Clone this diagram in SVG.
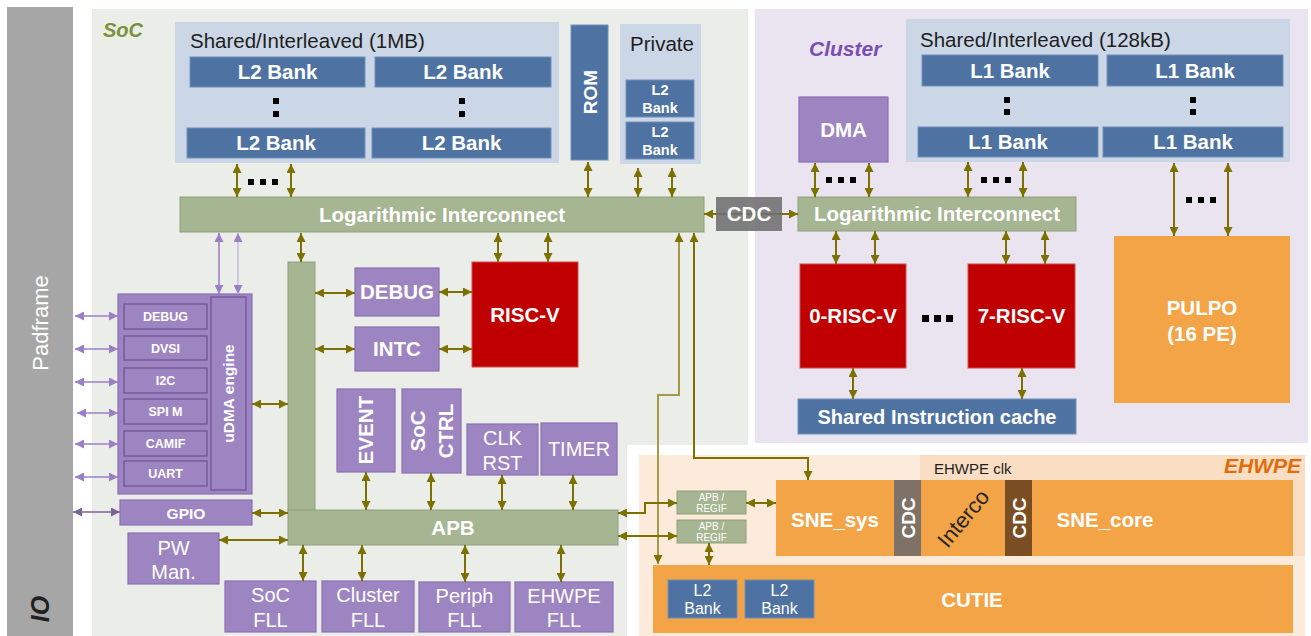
<svg xmlns="http://www.w3.org/2000/svg" width="1311" height="636" viewBox="0 0 1311 636">
<defs>
<style>
text{font-family:"Liberation Sans",Arial,sans-serif}
.t{fill:#fff;font-weight:bold;font-size:20.5px;text-anchor:middle}
.tr{fill:#fff;font-size:20px;text-anchor:middle}
.dk{fill:#1e1e1e;font-size:20.5px}
.bank{fill:#4E72A1;stroke:#7090B8;stroke-width:1}
.panel{fill:#CBD7E6}
.grn{fill:#A6B592;stroke:#90A07B;stroke-width:1}
.pur{fill:#9D85C2;stroke:#8A70B4;stroke-width:1.2}
.pin{fill:#9D85C2;stroke:#6F5596;stroke-width:1.3}
.red{fill:#C00000;stroke:#D44A4A;stroke-width:1}
.org{fill:#F2A447}
.ol{stroke:#7C7000;stroke-width:2;fill:none;marker-start:url(#ah);marker-end:url(#ah)}
.oll{stroke:#A39A45;stroke-width:2;fill:none;marker-start:url(#ah);marker-end:url(#ah)}
.pl{stroke:#9B7FC6;stroke-width:1.6;fill:none;marker-start:url(#ap);marker-end:url(#ap)}
.plx{stroke:#CBBCE2;stroke-width:1.6;fill:none;marker-start:url(#ap);marker-end:url(#ap)}
.pd{stroke:#7C6399;stroke-width:1.6;fill:none;marker-start:url(#apd);marker-end:url(#apd)}
.dot{fill:#000}
.s10{font-size:10px}
.s12{font-size:12.5px}
.s14{font-size:14.5px}
.s15{font-size:15.5px}
.s16{font-size:16px}
.s19{font-size:19px}
.s20{font-size:20px}
</style>
<marker id="ah" viewBox="0 0 10 10" refX="10" refY="5" markerWidth="9" markerHeight="9" markerUnits="userSpaceOnUse" orient="auto-start-reverse"><path d="M0,0 L10,5 L0,10 z" fill="#7C7000"/></marker>
<marker id="ap" viewBox="0 0 10 10" refX="10" refY="5" markerWidth="9" markerHeight="9" markerUnits="userSpaceOnUse" orient="auto-start-reverse"><path d="M0,0 L10,5 L0,10 z" fill="#9B7FC6"/></marker>
<marker id="apd" viewBox="0 0 10 10" refX="10" refY="5" markerWidth="9" markerHeight="9" markerUnits="userSpaceOnUse" orient="auto-start-reverse"><path d="M0,0 L10,5 L0,10 z" fill="#7C6399"/></marker>
</defs>
<rect width="1311" height="636" fill="#fff"/>

<!-- regions -->
<g id="padframe">
<rect x="7" y="7" width="66" height="629" fill="#A6A6A6"/>
<text transform="rotate(-90 40 323)" x="40" y="331" fill="#fff" font-size="22" text-anchor="middle">Padframe</text>
<text transform="rotate(-90 40 609)" x="40" y="618" fill="#222" font-size="25" font-weight="bold" font-style="italic" text-anchor="middle">IO</text>
</g>
<g id="soc">
<rect x="92" y="9" width="656" height="627" fill="#EBEEE8"/>
<text x="103" y="37" fill="#77933C" font-size="20" font-weight="bold" font-style="italic">SoC</text>
</g>
<g id="cluster">
<rect x="755" y="9" width="553" height="434" fill="#EAE4F1"/>
<text x="809" y="56" fill="#7A4FB0" font-size="21" font-weight="bold" font-style="italic">Cluster</text>
</g>
<g id="ehwpe">
<rect x="627" y="445" width="684" height="191" fill="#fff"/>
<rect x="639" y="455" width="666" height="181" fill="#FCEBDA"/>
<rect x="920" y="455" width="385" height="101" fill="#F9DEC3"/>
<text x="934" y="474" fill="#1e1e1e" font-size="15">EHWPE clk</text>
<text x="1301" y="473" fill="#E36C09" font-size="21" font-weight="bold" font-style="italic" text-anchor="end">EHWPE</text>
</g>

<!-- SoC memory -->
<g id="l2-shared">
<rect class="panel" x="175" y="22" width="384" height="141"/>
<text class="dk" x="190" y="48">Shared/Interleaved (1MB)</text>
<rect class="bank" x="190" y="57" width="175" height="30"/>
<text class="t" x="277.5" y="79">L2 Bank</text>
<rect class="bank" x="375" y="57" width="176" height="30"/>
<text class="t" x="463" y="79">L2 Bank</text>
<rect class="bank" x="187" y="128" width="178" height="30"/>
<text class="t" x="276" y="150">L2 Bank</text>
<rect class="bank" x="372" y="128" width="179" height="30"/>
<text class="t" x="461.5" y="150">L2 Bank</text>
<rect class="dot" x="273" y="98" width="6" height="6"/><rect class="dot" x="273" y="111" width="6" height="6"/>
<rect class="dot" x="459" y="98" width="6" height="6"/><rect class="dot" x="459" y="111" width="6" height="6"/>
</g>
<g id="rom">
<rect class="bank" x="571" y="25" width="37" height="135"/>
<text class="t s19" transform="rotate(-90 589.5 92)" x="589.5" y="99">ROM</text>
</g>
<g id="l2-private">
<rect class="panel" x="620" y="24" width="81" height="140"/>
<text class="dk" x="662" y="51" text-anchor="middle">Private</text>
<rect class="bank" x="626" y="80" width="68" height="37"/>
<text class="t s14" x="660" y="95">L2</text>
<text class="t s14" x="660" y="113">Bank</text>
<rect class="bank" x="626" y="122" width="68" height="37"/>
<text class="t s14" x="660" y="137">L2</text>
<text class="t s14" x="660" y="155">Bank</text>
</g>
<g id="soc-interconnect">
<rect class="grn" x="180" y="197" width="524" height="35"/>
<text class="t" x="442" y="222">Logarithmic Interconnect</text>
</g>

<!-- SoC peripherals -->
<g id="apb">
<rect class="grn" x="288" y="262" width="27" height="250"/>
<rect class="grn" x="288" y="510" width="330" height="35"/>
<text class="t" x="453" y="535">APB</text>
</g>
<g id="debug"><rect class="pur" x="355" y="268" width="84" height="48"/><text class="t" x="397" y="299">DEBUG</text></g>
<g id="intc"><rect class="pur" x="355" y="327" width="84" height="44"/><text class="t" x="397" y="356">INTC</text></g>
<g id="soc-riscv"><rect class="red" x="472" y="262" width="106" height="105"/><text class="t" x="525" y="322">RISC-V</text></g>
<g id="event"><rect class="pur" x="337" y="389" width="58" height="83"/><text class="t" transform="rotate(-90 366 430)" x="366" y="437">EVENT</text></g>
<g id="socctrl"><rect class="pur" x="402" y="389" width="59" height="84"/>
<text class="t" transform="rotate(-90 418 431)" x="418" y="438">SoC</text>
<text class="t" transform="rotate(-90 446 431)" x="446" y="438">CTRL</text></g>
<g id="clkrst"><rect class="pur" x="467" y="424" width="71" height="51"/><text class="tr" x="502.5" y="445">CLK</text><text class="tr" x="502.5" y="470">RST</text></g>
<g id="timer"><rect class="pur" x="541" y="423" width="76" height="52"/><text class="tr" x="579" y="456">TIMER</text></g>

<g id="udma">
<rect class="pur" x="118" y="294" width="134" height="200"/>
<rect class="pin" x="124" y="304" width="83" height="25"/><text class="t s12" x="165.5" y="321">DEBUG</text>
<rect class="pin" x="124" y="336" width="83" height="24"/><text class="t s12" x="165.5" y="352.5">DVSI</text>
<rect class="pin" x="124" y="368" width="83" height="25"/><text class="t s12" x="165.5" y="385">I2C</text>
<rect class="pin" x="124" y="399" width="83" height="25"/><text class="t s12" x="165.5" y="416">SPI M</text>
<rect class="pin" x="124" y="431" width="83" height="25"/><text class="t s12" x="165.5" y="448">CAMIF</text>
<rect class="pin" x="124" y="461" width="83" height="25"/><text class="t s12" x="165.5" y="478">UART</text>
<rect class="pin" x="211" y="297" width="35" height="193"/>
<text class="t s15" transform="rotate(-90 228.5 393.5)" x="228.5" y="399">uDMA engine</text>
</g>
<g id="gpio"><rect class="pur" x="120" y="500" width="132" height="25"/><text class="t s15" x="186" y="518.5">GPIO</text></g>
<g id="pwman"><rect class="pur" x="128" y="533" width="91" height="51"/><text class="tr" x="173.5" y="555">PW</text><text class="tr" x="173.5" y="579">Man.</text></g>
<g id="soc-fll"><rect class="pur" x="225" y="581" width="91" height="51"/><text class="tr" x="270.5" y="602">SoC</text><text class="tr" x="270.5" y="627">FLL</text></g>
<g id="cluster-fll"><rect class="pur" x="322" y="581" width="92" height="51"/><text class="tr" x="368" y="602">Cluster</text><text class="tr" x="368" y="627">FLL</text></g>
<g id="periph-fll"><rect class="pur" x="419" y="582" width="91" height="50"/><text class="tr" x="464.5" y="603">Periph</text><text class="tr" x="464.5" y="627">FLL</text></g>
<g id="ehwpe-fll"><rect class="pur" x="515" y="582" width="98" height="50"/><text class="tr" x="564" y="603">EHWPE</text><text class="tr" x="564" y="627">FLL</text></g>

<!-- Cluster -->
<g id="l1-shared">
<rect class="panel" x="906" y="19" width="384" height="143"/>
<text class="dk" x="920" y="47">Shared/Interleaved (128kB)</text>
<rect class="bank" x="922" y="55" width="176" height="31"/><text class="t" x="1010" y="78">L1 Bank</text>
<rect class="bank" x="1107" y="55" width="176" height="31"/><text class="t" x="1195" y="78">L1 Bank</text>
<rect class="bank" x="918" y="127" width="180" height="30"/><text class="t" x="1008" y="149">L1 Bank</text>
<rect class="bank" x="1103" y="127" width="180" height="30"/><text class="t" x="1193" y="149">L1 Bank</text>
<rect class="dot" x="1004" y="97" width="6" height="6"/><rect class="dot" x="1004" y="109" width="6" height="6"/>
<rect class="dot" x="1190" y="97" width="6" height="6"/><rect class="dot" x="1190" y="109" width="6" height="6"/>
</g>
<g id="dma"><rect class="pur" x="799" y="97" width="89" height="65"/><text class="t" x="843.5" y="137">DMA</text></g>
<g id="cluster-interconnect"><rect class="grn" x="798" y="197" width="278" height="34"/><text class="t" x="937" y="221">Logarithmic Interconnect</text></g>
<g id="riscv0"><rect class="red" x="800" y="264" width="106" height="104"/><text class="t" x="853" y="323">0-RISC-V</text></g>
<g id="riscv7"><rect class="red" x="968" y="264" width="107" height="104"/><text class="t" x="1021.5" y="323">7-RISC-V</text></g>
<g id="icache"><rect class="bank" x="798" y="399" width="278" height="35"/><text class="t s20" x="937" y="424">Shared Instruction cache</text></g>
<g id="pulpo"><rect class="org" x="1114" y="236" width="176" height="167"/><text class="t" x="1202" y="315">PULPO</text><text class="t" x="1202" y="341">(16 PE)</text></g>
<g id="cluster-dots">
<rect class="dot" x="922" y="315" width="7" height="7"/><rect class="dot" x="934" y="315" width="7" height="7"/><rect class="dot" x="946" y="315" width="7" height="7"/>
</g>

<!-- EHWPE -->
<g id="regif1"><rect class="grn" x="677" y="491" width="69" height="23"/><text class="tr s10" x="711.5" y="501">APB /</text><text class="tr s10" x="711.5" y="512">REGIF</text></g>
<g id="regif2"><rect class="grn" x="677" y="520" width="69" height="23"/><text class="tr s10" x="711.5" y="530">APB /</text><text class="tr s10" x="711.5" y="541">REGIF</text></g>
<g id="sne">
<rect class="org" x="776" y="480" width="517" height="76"/>
<text class="t" x="835" y="527">SNE_sys</text>
<rect x="894" y="480" width="27" height="76" fill="#7D7265"/>
<text class="t s19" transform="rotate(-90 907.5 518)" x="907.5" y="525">CDC</text>
<text transform="rotate(-50 963 518)" x="963" y="526" fill="#262626" font-size="22" text-anchor="middle">Interco</text>
<rect x="1005" y="480" width="27" height="76" fill="#7A4E22"/>
<text class="t s19" transform="rotate(-90 1018.5 518)" x="1018.5" y="525">CDC</text>
<text class="t" x="1105" y="527">SNE_core</text>
</g>
<g id="cutie">
<rect class="org" x="653" y="565" width="640" height="68"/>
<rect class="bank" x="668" y="580" width="69" height="38"/><text class="tr s16" x="702.5" y="596">L2</text><text class="tr s16" x="702.5" y="614">Bank</text>
<rect class="bank" x="745" y="580" width="69" height="38"/><text class="tr s16" x="779.5" y="596">L2</text><text class="tr s16" x="779.5" y="614">Bank</text>
<text class="t" x="972" y="607">CUTIE</text>
</g>

<!-- connectors -->
<g id="connectors">
<line class="ol" x1="237" y1="164" x2="237" y2="197"/>
<line class="ol" x1="291" y1="164" x2="291" y2="197"/>
<rect class="dot" x="248" y="179" width="6" height="6"/><rect class="dot" x="260" y="179" width="6" height="6"/><rect class="dot" x="272" y="179" width="6" height="6"/>
<line class="ol" x1="588" y1="162" x2="588" y2="197"/>
<line class="ol" x1="638" y1="168" x2="638" y2="197"/>
<line class="ol" x1="672" y1="168" x2="672" y2="197"/>
<line class="pl" x1="219" y1="233" x2="219" y2="294"/>
<line class="plx" x1="238" y1="233" x2="238" y2="294"/>
<line class="ol" x1="301" y1="233" x2="301" y2="262"/>
<line class="ol" x1="498" y1="233" x2="498" y2="262"/>
<line class="ol" x1="548" y1="233" x2="548" y2="262"/>
<polyline class="oll" points="679,233 679,395 658,395 658,564"/>
<polyline class="ol" points="694,233 694,458 808,458 808,480"/>
<line class="ol" x1="315" y1="293" x2="355" y2="293"/>
<line class="ol" x1="315" y1="349" x2="355" y2="349"/>
<line class="ol" x1="439" y1="292" x2="472" y2="292"/>
<line class="ol" x1="439" y1="349" x2="472" y2="349"/>
<line class="ol" x1="252" y1="404" x2="288" y2="404"/>
<line class="ol" x1="366" y1="472" x2="366" y2="510"/>
<line class="ol" x1="431" y1="473" x2="431" y2="510"/>
<line class="ol" x1="502" y1="475" x2="502" y2="510"/>
<line class="ol" x1="573" y1="475" x2="573" y2="510"/>
<line class="ol" x1="252" y1="513" x2="288" y2="513"/>
<line class="ol" x1="219" y1="540" x2="288" y2="540"/>
<line class="ol" x1="303" y1="545" x2="303" y2="581"/>
<line class="ol" x1="362" y1="545" x2="362" y2="581"/>
<line class="ol" x1="465" y1="545" x2="465" y2="582"/>
<line class="ol" x1="561" y1="545" x2="561" y2="582"/>
<polyline class="ol" points="618,513 645,513 645,503 677,503"/>
<line class="ol" x1="618" y1="536" x2="677" y2="536"/>
<line class="ol" x1="746" y1="503" x2="776" y2="503"/>
<line class="ol" x1="709" y1="543" x2="709" y2="565"/>
<line class="pl" x1="75" y1="316" x2="118" y2="316"/>
<line class="pl" x1="75" y1="349" x2="118" y2="349"/>
<line class="pl" x1="75" y1="382" x2="118" y2="382"/>
<line class="pl" x1="77" y1="413" x2="118" y2="413"/>
<line class="pl" x1="75" y1="444" x2="118" y2="444"/>
<line class="pl" x1="75" y1="477" x2="118" y2="477"/>
<line class="pd" x1="73" y1="512" x2="120" y2="512"/>
<line class="ol" x1="815" y1="163" x2="815" y2="197"/>
<line class="ol" x1="869" y1="163" x2="869" y2="197"/>
<rect class="dot" x="826" y="177" width="6" height="6"/><rect class="dot" x="838" y="177" width="6" height="6"/><rect class="dot" x="850" y="177" width="6" height="6"/>
<line class="ol" x1="968" y1="162" x2="968" y2="197"/>
<line class="ol" x1="1023" y1="162" x2="1023" y2="197"/>
<rect class="dot" x="981" y="177" width="6" height="6"/><rect class="dot" x="993" y="177" width="6" height="6"/><rect class="dot" x="1005" y="177" width="6" height="6"/>
<line class="ol" x1="1174" y1="163" x2="1174" y2="236"/>
<line class="ol" x1="1228" y1="163" x2="1228" y2="236"/>
<rect class="dot" x="1186" y="197" width="6" height="6"/><rect class="dot" x="1198" y="197" width="6" height="6"/><rect class="dot" x="1210" y="197" width="6" height="6"/>
<line class="ol" x1="836" y1="231" x2="836" y2="264"/>
<line class="ol" x1="875" y1="231" x2="875" y2="264"/>
<line class="ol" x1="1006" y1="231" x2="1006" y2="264"/>
<line class="ol" x1="1045" y1="231" x2="1045" y2="264"/>
<line class="ol" x1="853" y1="368" x2="853" y2="399"/>
<line class="ol" x1="1022" y1="368" x2="1022" y2="399"/>
<line class="ol" x1="704" y1="214" x2="798" y2="214"/>
</g>
<g id="cdc">
<rect x="716" y="197" width="66" height="34" fill="#6E6E6E" fill-opacity="0.88"/>
<text class="t" x="749" y="221">CDC</text>
</g>
</svg>
